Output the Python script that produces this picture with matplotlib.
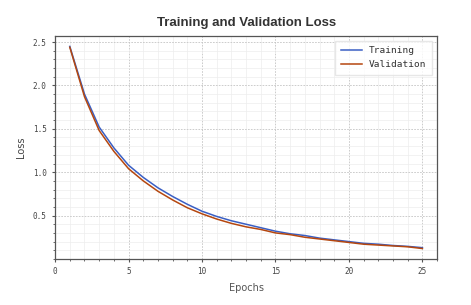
import matplotlib
matplotlib.use('Agg')
import matplotlib.pyplot as plt
from matplotlib.ticker import MultipleLocator

# data
epochs = list(range(1, 26))
train_loss = [2.45, 1.90, 1.52, 1.28, 1.08, 0.94, 0.82, 0.72, 0.63, 0.55,
              0.49, 0.44, 0.40, 0.36, 0.32, 0.29, 0.27, 0.24, 0.22, 0.20,
              0.18, 0.17, 0.155, 0.145, 0.13]
val_loss = [2.44, 1.87, 1.48, 1.24, 1.04, 0.90, 0.78, 0.68, 0.59, 0.52,
            0.46, 0.41, 0.37, 0.34, 0.30, 0.28, 0.25, 0.23, 0.21, 0.19,
            0.17, 0.16, 0.15, 0.14, 0.12]

mono = 'DejaVu Sans Mono'

fig = plt.figure(figsize=(4.71, 3.05), dpi=100)
ax = fig.add_axes([0.117, 0.151, 0.811, 0.731])

ax.plot(epochs, train_loss, color='#3a5fc4', lw=1.1, label='Training')
ax.plot(epochs, val_loss, color='#b5470f', lw=1.1, label='Validation')

ax.set_xlim(0, 26)
ax.set_ylim(0.0, 2.57)
ax.xaxis.set_major_locator(MultipleLocator(5))
ax.xaxis.set_minor_locator(MultipleLocator(1))
ax.yaxis.set_major_locator(MultipleLocator(0.5))
ax.yaxis.set_minor_locator(MultipleLocator(0.1))
ax.set_yticks([0.5, 1.0, 1.5, 2.0, 2.5])

ax.grid(which='major', color='#c4c4c4', ls=(0, (2, 1.5)), lw=0.6)
ax.grid(which='minor', color='#ededed', ls='-', lw=0.5)
ax.set_axisbelow(True)

for s in ax.spines.values():
    s.set_color('#555555')
    s.set_linewidth(0.9)
ax.tick_params(which='both', colors='#555555', labelcolor='#444444', labelsize=5.5)
ax.tick_params(which='major', length=2.5)
ax.tick_params(which='minor', length=1.5)
for lbl in ax.get_xticklabels() + ax.get_yticklabels():
    lbl.set_family(mono)

ax.set_title('Training and Validation Loss', fontsize=9.5, fontweight='bold',
             family='Liberation Sans', color='#333333', pad=7)
ax.set_xlabel('Epochs', fontsize=7, family='DejaVu Sans', color='#555555', labelpad=5)
ax.set_ylabel('Loss', fontsize=7, family='DejaVu Sans', color='#444444', labelpad=5)

leg = ax.legend(loc='upper right', prop={'family': mono, 'size': 6.8},
                frameon=True, fancybox=False, edgecolor='#e2e2e2',
                handlelength=2.2, borderpad=0.6)
for t in leg.get_texts():
    t.set_color('#333333')

plt.savefig('out.png', dpi=100)
